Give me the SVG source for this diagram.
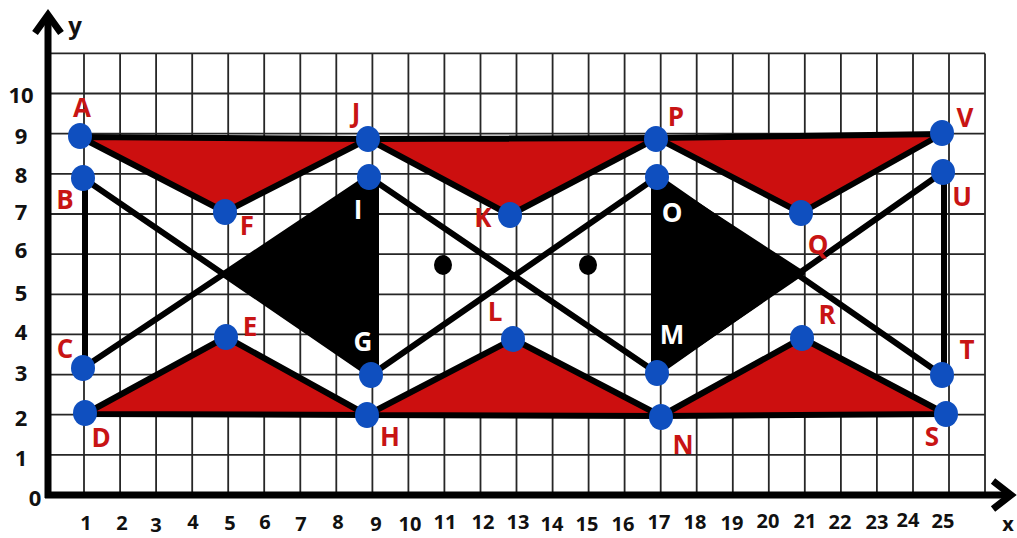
<svg xmlns="http://www.w3.org/2000/svg" width="1017" height="538" viewBox="0 0 1017 538">
<style>
.grid{stroke:#262626;stroke-width:1.8;fill:none}
.axis{stroke:#000;stroke-width:7;fill:none;stroke-linecap:butt}
.num{font-family:"Open Sans","Noto Sans",sans-serif;font-weight:700;font-size:20px;fill:#111;text-anchor:middle}
.ynum{font-family:"Open Sans","Noto Sans",sans-serif;font-weight:700;font-size:22px;fill:#111;text-anchor:middle}
.red{fill:#cc0f0f;stroke:#000;stroke-width:6;stroke-linejoin:round}
.blk{fill:#000;stroke:#000;stroke-width:4;stroke-linejoin:round}
.ln{stroke:#000;stroke-width:6;stroke-linecap:round;fill:none}
.pt{fill:#0f4fbf}
.lbl{font-family:"Open Sans","Noto Sans",sans-serif;font-weight:700;font-size:26px;fill:#c81414;text-anchor:middle}
.wl{font-family:"Open Sans","Noto Sans",sans-serif;font-weight:700;font-size:26px;fill:#fff;text-anchor:middle}
</style>
<rect width="1017" height="538" fill="#fff"/>
<g id="grid">
<path class="grid" d="M84 53.4V495M120.1 53.4V495M156.1 53.4V495M192.2 53.4V495M228.2 53.4V495M264.2 53.4V495M300.3 53.4V495M336.3 53.4V495M372.4 53.4V495M408.4 53.4V495M444.4 53.4V495M480.5 53.4V495M516.5 53.4V495M552.6 53.4V495M588.6 53.4V495M624.6 53.4V495M660.7 53.4V495M696.7 53.4V495M732.8 53.4V495M768.8 53.4V495M804.8 53.4V495M840.9 53.4V495M876.9 53.4V495M913 53.4V495M949 53.4V495M985 53.4V495M48 454.9H985M48 414.7H985M48 374.6H985M48 334.4H985M48 294.3H985M48 254.1H985M48 214H985M48 173.8H985M48 133.7H985M48 93.5H985M48 53.4H985"/>
</g>
<g id="axes">
<path class="axis" d="M48 498V16"/>
<path class="axis" d="M35 33L48 15L61 33" stroke-linejoin="miter"/>
<path class="axis" d="M45 495H1008"/>
<path class="axis" d="M993 481L1011 495L993 509" stroke-linejoin="miter"/>
<text x="75" y="34" font-family="Open Sans, Noto Sans, sans-serif" font-weight="700" font-size="24" fill="#111" text-anchor="middle">y</text>
<text x="1008" y="531" font-family="Open Sans, Noto Sans, sans-serif" font-weight="700" font-size="20" fill="#111" text-anchor="middle">x</text>
</g>
<g id="ticks-y">
<text class="ynum" x="21" y="103">10</text>
<text class="ynum" x="21" y="144">9</text>
<text class="ynum" x="21" y="183">8</text>
<text class="ynum" x="21" y="220">7</text>
<text class="ynum" x="21" y="258">6</text>
<text class="ynum" x="21" y="301">5</text>
<text class="ynum" x="21" y="340">4</text>
<text class="ynum" x="21" y="381">3</text>
<text class="ynum" x="21" y="426">2</text>
<text class="ynum" x="21" y="466">1</text>
<text class="ynum" x="35" y="506">0</text>
</g>
<g id="ticks-x">
<text class="num" x="86" y="530">1</text>
<text class="num" x="122" y="530">2</text>
<text class="num" x="156" y="532">3</text>
<text class="num" x="193" y="529">4</text>
<text class="num" x="230" y="530">5</text>
<text class="num" x="265" y="529">6</text>
<text class="num" x="301" y="531">7</text>
<text class="num" x="338" y="529">8</text>
<text class="num" x="376" y="531">9</text>
<text class="num" x="410" y="531">10</text>
<text class="num" x="445" y="529">11</text>
<text class="num" x="483" y="529">12</text>
<text class="num" x="518" y="529">13</text>
<text class="num" x="552" y="531">14</text>
<text class="num" x="587" y="531">15</text>
<text class="num" x="623" y="531">16</text>
<text class="num" x="659" y="529">17</text>
<text class="num" x="695" y="529">18</text>
<text class="num" x="732" y="530">19</text>
<text class="num" x="768" y="528">20</text>
<text class="num" x="805" y="528">21</text>
<text class="num" x="840" y="529">22</text>
<text class="num" x="877" y="529">23</text>
<text class="num" x="908" y="527">24</text>
<text class="num" x="943" y="528">25</text>
</g>
<g id="shapes">
<polygon class="red" points="80,137 225,212 368,139"/>
<polygon class="red" points="368,139 510,215 657,138"/>
<polygon class="red" points="657,138 801,213 942,134"/>
<polygon class="red" points="85,414 226,337 367,415"/>
<polygon class="red" points="367,415 513,339 661,416"/>
<polygon class="red" points="661,416 802,338 946,414"/>
<polygon class="blk" points="228,276 369,178 376,178 376,374 371,375"/>
<polygon class="blk" points="803,273 657,178 654,178 654,372 657,373"/>
<ellipse cx="443" cy="265" rx="9" ry="10" fill="#000"/>
<ellipse cx="588" cy="265" rx="9" ry="10" fill="#000"/>
</g>
<g id="connectors">
<line class="ln" x1="85" y1="178" x2="85" y2="368"/>
<line class="ln" x1="944" y1="172" x2="944" y2="375"/>
<line class="ln" x1="83" y1="178" x2="371" y2="375"/>
<line class="ln" x1="83" y1="368" x2="369" y2="177"/>
<line class="ln" x1="369" y1="177" x2="657" y2="373"/>
<line class="ln" x1="371" y1="375" x2="657" y2="177"/>
<line class="ln" x1="657" y1="177" x2="942" y2="375"/>
<line class="ln" x1="657" y1="373" x2="943" y2="172"/>
<line class="ln" x1="376" y1="178" x2="376" y2="374"/>
<line class="ln" x1="654" y1="178" x2="654" y2="372"/>
</g>
<g id="node-A"><ellipse class="pt" cx="80" cy="136" rx="12" ry="13"/><text class="lbl" x="82" y="117">A</text></g>
<g id="node-B"><ellipse class="pt" cx="83" cy="178" rx="12" ry="13"/><text class="lbl" x="65" y="209">B</text></g>
<g id="node-C"><ellipse class="pt" cx="83" cy="368" rx="12" ry="13"/><text class="lbl" x="65" y="358">C</text></g>
<g id="node-D"><ellipse class="pt" cx="85" cy="413" rx="12" ry="13"/><text class="lbl" x="101" y="447">D</text></g>
<g id="node-E"><ellipse class="pt" cx="226" cy="337" rx="12" ry="13"/><text class="lbl" x="250" y="336">E</text></g>
<g id="node-F"><ellipse class="pt" cx="225" cy="212" rx="12" ry="13"/><text class="lbl" x="247" y="235">F</text></g>
<g id="node-G"><ellipse class="pt" cx="371" cy="375" rx="12" ry="13"/><text class="wl" x="363" y="351">G</text></g>
<g id="node-H"><ellipse class="pt" cx="367" cy="415" rx="12" ry="13"/><text class="lbl" x="390" y="446">H</text></g>
<g id="node-I"><ellipse class="pt" cx="369" cy="177" rx="12" ry="13"/><text class="wl" x="358" y="219">I</text></g>
<g id="node-J"><ellipse class="pt" cx="368" cy="139" rx="12" ry="13"/><text class="lbl" x="356" y="122">J</text></g>
<g id="node-K"><ellipse class="pt" cx="510" cy="215" rx="12" ry="13"/><text class="lbl" x="483" y="227">K</text></g>
<g id="node-L"><ellipse class="pt" cx="513" cy="339" rx="12" ry="13"/><text class="lbl" x="495" y="321">L</text></g>
<g id="node-M"><ellipse class="pt" cx="657" cy="373" rx="12" ry="13"/><text class="wl" x="672" y="344">M</text></g>
<g id="node-N"><ellipse class="pt" cx="661" cy="417" rx="12" ry="13"/><text class="lbl" x="683" y="454">N</text></g>
<g id="node-O"><ellipse class="pt" cx="657" cy="177" rx="12" ry="13"/><text class="wl" x="672" y="222">O</text></g>
<g id="node-P"><ellipse class="pt" cx="656" cy="139" rx="12" ry="13"/><text class="lbl" x="676" y="126">P</text></g>
<g id="node-Q"><ellipse class="pt" cx="801" cy="213" rx="12" ry="13"/><text class="lbl" x="818" y="254">Q</text></g>
<g id="node-R"><ellipse class="pt" cx="802" cy="338" rx="12" ry="13"/><text class="lbl" x="827" y="324">R</text></g>
<g id="node-S"><ellipse class="pt" cx="946" cy="414" rx="12" ry="13"/><text class="lbl" x="932" y="446">S</text></g>
<g id="node-T"><ellipse class="pt" cx="942" cy="375" rx="12" ry="13"/><text class="lbl" x="967" y="359">T</text></g>
<g id="node-U"><ellipse class="pt" cx="943" cy="172" rx="12" ry="13"/><text class="lbl" x="962" y="206">U</text></g>
<g id="node-V"><ellipse class="pt" cx="942" cy="133" rx="12" ry="13"/><text class="lbl" x="965" y="127">V</text></g>
</svg>
